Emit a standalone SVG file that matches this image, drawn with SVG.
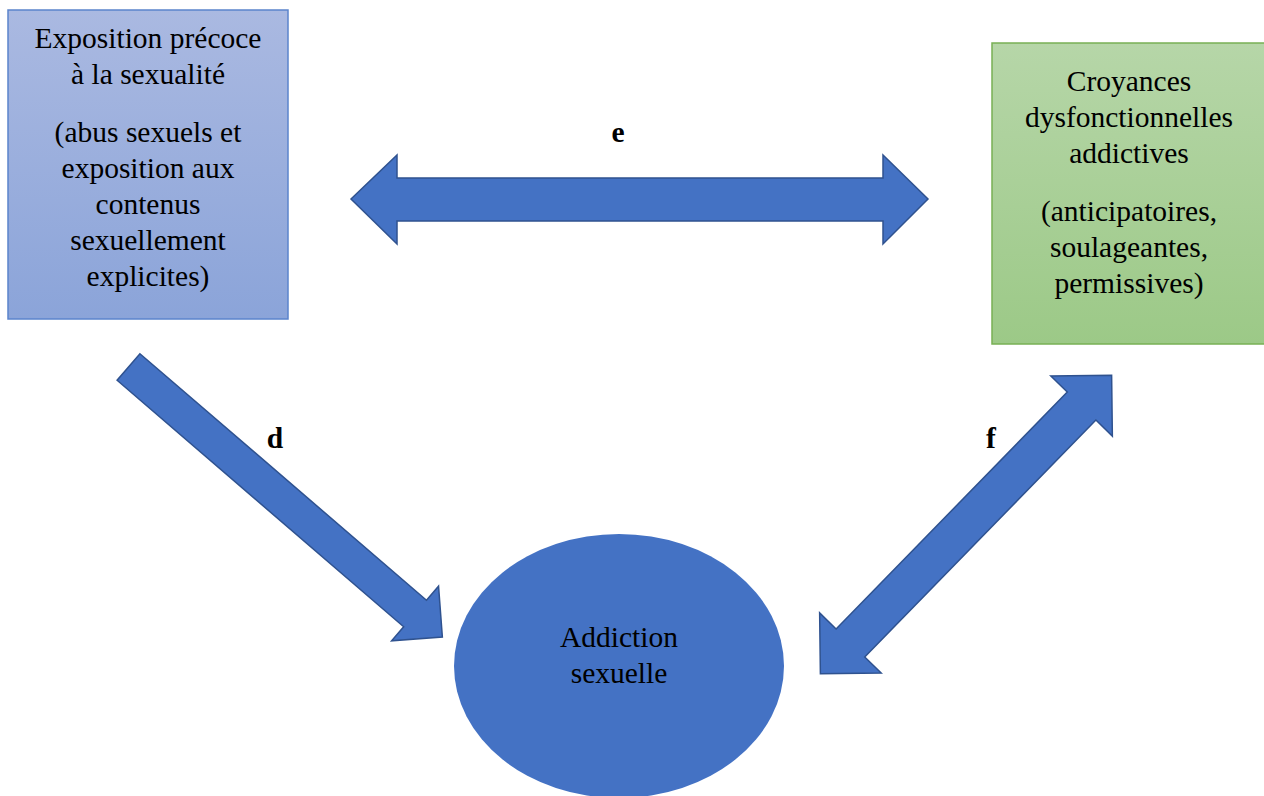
<svg xmlns="http://www.w3.org/2000/svg" width="1264" height="796" viewBox="0 0 1264 796">
  <defs>
    <linearGradient id="gBlue" x1="0" y1="0" x2="0" y2="1">
      <stop offset="0" stop-color="#aab9e1"/>
      <stop offset="1" stop-color="#8ba4d9"/>
    </linearGradient>
    <linearGradient id="gGreen" x1="0" y1="0" x2="0" y2="1">
      <stop offset="0" stop-color="#b6d6a8"/>
      <stop offset="1" stop-color="#9cc987"/>
    </linearGradient>
  </defs>
  <style>
    text { font-family: 'Liberation Serif', 'Times New Roman', Times, 'DejaVu Serif', serif; }
    .t { font-size: 29.5px; fill: #000; text-anchor: middle; }
    .lbl { font-size: 29.5px; font-weight: bold; fill: #000; text-anchor: middle; }
    .arrow { fill: #4472c4; stroke: #2f528f; stroke-width: 1.5; stroke-linejoin: miter; }
  </style>
  <rect width="1264" height="796" fill="#ffffff"/>

  <g id="connectors">
    <path class="arrow" d="M351,199 L397,155 L397,178 L883,178 L883,155 L928,199 L883,244 L883,221 L397,221 L397,244 Z"/>
    <g transform="translate(128.5,367) rotate(40.7)">
      <path class="arrow" d="M0,-17.5 L378,-17.5 L378,-36 L414,0 L378,36 L378,17.5 L0,17.5 Z"/>
    </g>
    <g transform="translate(966,524.5) rotate(-45.7)">
      <path class="arrow" d="M-208.5,0 L-165.5,-43 L-165.5,-20 L165.5,-20 L165.5,-43 L208.5,0 L165.5,43 L165.5,20 L-165.5,20 L-165.5,43 Z"/>
    </g>
    <text class="lbl" x="618" y="141.5" font-family="Liberation Serif, serif">e</text>
    <text class="lbl" x="275" y="448" font-family="Liberation Serif, serif">d</text>
    <text class="lbl" x="991" y="448" font-family="Liberation Serif, serif">f</text>
  </g>

  <g id="node-exposition" font-family="Liberation Serif, serif">
    <rect x="8" y="10" width="280" height="309" fill="url(#gBlue)" stroke="#5b84cc" stroke-width="1.5"/>
    <text class="t" x="148" y="48">Exposition précoce</text>
    <text class="t" x="148" y="84">à la sexualité</text>
    <text class="t" x="148" y="142">(abus sexuels et</text>
    <text class="t" x="148" y="178">exposition aux</text>
    <text class="t" x="148" y="214">contenus</text>
    <text class="t" x="148" y="250">sexuellement</text>
    <text class="t" x="148" y="286">explicites)</text>
  </g>

  <g id="node-croyances">
    <rect x="992" y="43" width="274" height="301" fill="url(#gGreen)" stroke="#78b054" stroke-width="1.5"/>
    <text class="t" x="1129" y="91">Croyances</text>
    <text class="t" x="1129" y="127">dysfonctionnelles</text>
    <text class="t" x="1129" y="163">addictives</text>
    <text class="t" x="1129" y="221">(anticipatoires,</text>
    <text class="t" x="1129" y="257">soulageantes,</text>
    <text class="t" x="1129" y="293">permissives)</text>
  </g>

  <g id="node-addiction">
    <ellipse cx="619" cy="666" rx="165" ry="132" fill="#4472c4"/>
    <text class="t" x="619" y="647">Addiction</text>
    <text class="t" x="619" y="683">sexuelle</text>
  </g>
</svg>
